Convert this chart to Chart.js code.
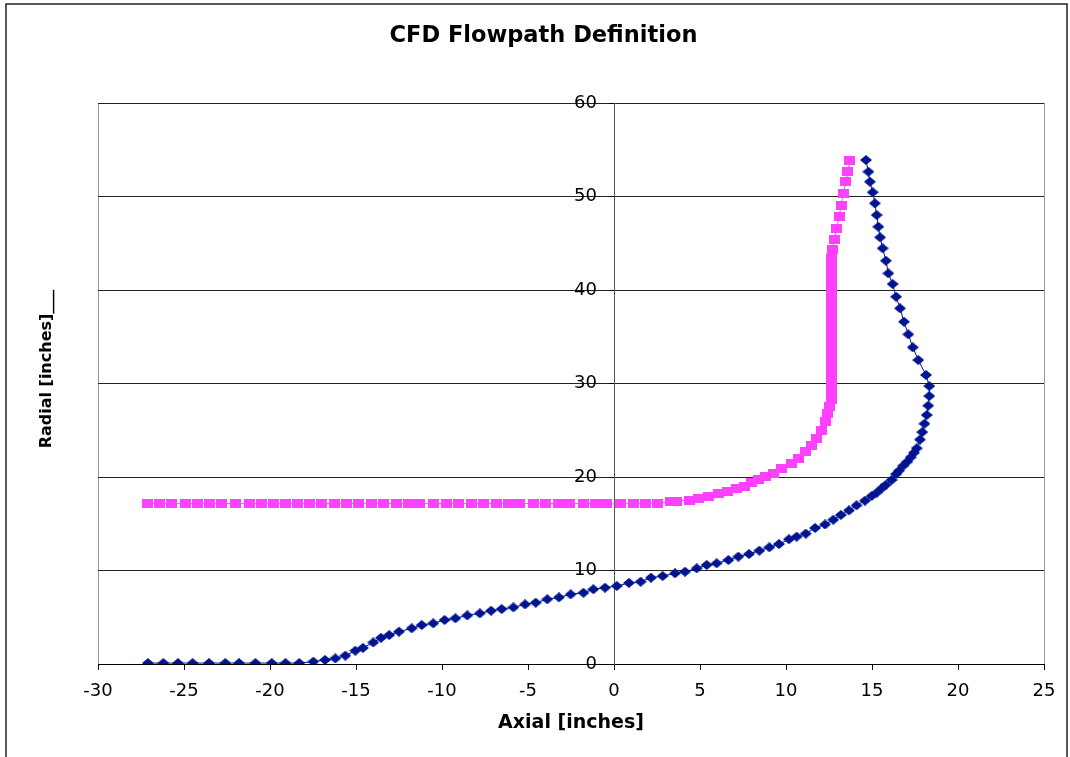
<!DOCTYPE html>
<html><head><meta charset="utf-8">
<script src="https://cdn.jsdelivr.net/npm/chart.js@4"></script>
<style>html,body{margin:0;padding:0;background:#fff}canvas{display:block}</style>
</head><body>
<canvas id="c" width="1070" height="757"></canvas>
<script>
// ---- data ----
const blueX = [-27.1, -26.2, -25.35, -24.5, -23.55, -22.6, -21.8, -20.85, -19.9, -19.1, -18.3,
  -17.48, -16.8, -16.2, -15.62, -15.04, -14.6, -14.0, -13.55, -13.07, -12.5,
  -11.76, -11.18, -10.51, -9.85, -9.22, -8.53, -7.8, -7.15, -6.53, -5.85,
  -5.17, -4.55, -3.88, -3.2, -2.52, -1.78, -1.2, -0.52, 0.16, 0.87,
  1.55, 2.15, 2.83, 3.55, 4.13, 4.81, 5.39, 5.97, 6.65, 7.23,
  7.85, 8.45, 9.03, 9.59, 10.17, 10.62, 11.15, 11.69, 12.27, 12.75,
  13.19, 13.66, 14.1, 14.59, 14.98, 15.27, 15.56, 15.79, 16.14, 16.4,
  16.57, 16.82, 17.05, 17.25, 17.44, 17.6, 17.79, 17.92, 18.05, 18.18,
  18.27, 18.33, 18.33, 18.14, 17.69, 17.37, 17.11, 16.86, 16.63, 16.4,
  16.2, 15.95, 15.81, 15.62, 15.47, 15.37, 15.27, 15.17, 15.04, 14.88,
  14.79, 14.65];
const blueY = [0.1, 0.1, 0.1, 0.1, 0.1, 0.1, 0.1, 0.1, 0.1, 0.1, 0.1,
  0.25, 0.43, 0.6, 0.89, 1.42, 1.72, 2.3, 2.8, 3.1, 3.46,
  3.82, 4.17, 4.35, 4.71, 4.89, 5.2, 5.42, 5.7, 5.88, 6.06,
  6.38, 6.56, 6.92, 7.13, 7.45, 7.62, 7.99, 8.16, 8.34, 8.67,
  8.8, 9.23, 9.41, 9.7, 9.87, 10.23, 10.59, 10.77, 11.12, 11.48,
  11.76, 12.12, 12.48, 12.83, 13.34, 13.62, 13.95, 14.55, 14.92, 15.43,
  15.94, 16.43, 16.97, 17.47, 17.97, 18.32, 18.79, 19.14, 19.68, 20.32,
  20.68, 21.21, 21.64, 22.1, 22.6, 23.07, 24.0, 24.8, 25.7, 26.63,
  27.63, 28.66, 29.73, 30.91, 32.51, 33.87, 35.26, 36.61, 38.04, 39.28,
  40.64, 41.78, 43.13, 44.46, 45.63, 46.77, 48.02, 49.27, 50.45, 51.58,
  52.65, 53.9];
const pinkX = [-27.1, -26.4, -25.7, -24.9, -24.2, -23.5, -22.8, -22.0, -21.2, -20.5,
  -19.8, -19.1, -18.4, -17.7, -17.0, -16.25, -15.55, -14.87, -14.1, -13.4,
  -12.63, -11.96, -11.3, -10.5, -9.73, -9.05, -8.27, -7.6, -6.82, -6.15,
  -5.47, -4.69, -4.0, -3.24, -2.56, -1.78, -1.1, -0.42, 0.4, 1.12, 1.86, 2.52,
  3.26, 3.64, 4.38, 4.94, 5.48, 6.06, 6.61, 7.13, 7.56, 8.01,
  8.39, 8.82, 9.3, 9.75, 10.3, 10.75, 11.15, 11.5, 11.8, 12.05,
  12.27, 12.4, 12.52, 12.62,
  12.66, 12.66, 12.66, 12.66, 12.66, 12.66, 12.66, 12.66, 12.66, 12.66,
  12.66, 12.66, 12.66, 12.66, 12.66, 12.66, 12.66, 12.66, 12.67, 12.7,
  12.81, 12.95, 13.1, 13.2, 13.33, 13.47, 13.59, 13.72];
const pinkY = [17.15, 17.15, 17.15, 17.15, 17.15, 17.15, 17.15, 17.15, 17.15, 17.15,
  17.15, 17.15, 17.15, 17.15, 17.15, 17.15, 17.15, 17.15, 17.15, 17.15,
  17.15, 17.15, 17.15, 17.15, 17.15, 17.15, 17.15, 17.15, 17.15, 17.15,
  17.15, 17.15, 17.15, 17.15, 17.15, 17.15, 17.15, 17.12, 17.12, 17.18, 17.18, 17.2,
  17.36, 17.43, 17.54, 17.72, 17.89, 18.25, 18.43, 18.79, 18.96, 19.39,
  19.75, 20.03, 20.39, 20.93, 21.4, 22.0, 22.7, 23.4, 24.1, 25.0,
  25.9, 26.8, 27.5, 28.3,
  29.0, 29.8, 30.6, 31.4, 32.2, 33.0, 33.8, 34.6, 35.4, 36.2,
  37.0, 37.8, 38.6, 39.4, 40.2, 41.0, 41.8, 42.6, 43.4, 44.28,
  45.35, 46.59, 47.84, 49.09, 50.34, 51.58, 52.65, 53.9];
const xRange = [-30, 25], xStep = 5;
const yRange = [0, 60], yStep = 10;
const chartTitle = 'CFD Flowpath Definition';
const xTitle = 'Axial [inches]';
const yTitle = 'Radial [inches]___';
// --------------------------------------

function marker(w, h, color, shape) {
  const c = document.createElement('canvas');
  c.width = w; c.height = h;
  const g = c.getContext('2d');
  g.fillStyle = color;
  g.beginPath();
  if (shape === 'diamond') {
    g.moveTo(w / 2, 0); g.lineTo(w, h / 2); g.lineTo(w / 2, h); g.lineTo(0, h / 2); g.closePath();
  } else {
    g.rect(0, 0, w, h);
  }
  g.fill();
  return c;
}
const BLUE = '#001490', PINK = '#FF40FF';
const diamond = marker(12, 10, BLUE, 'diamond');
const square = marker(11, 9, PINK, 'rect');

const toPts = (xs, ys) => xs.map((x, i) => ({x: x, y: ys[i]}));

const frame = {
  id: 'frame',
  beforeDraw(chart) {
    const ctx = chart.ctx;
    ctx.save();
    ctx.fillStyle = '#fff';
    ctx.fillRect(0, 0, chart.width, chart.height);
    ctx.strokeStyle = '#222';
    ctx.lineWidth = 1.5;
    ctx.strokeRect(6, 4, 1061, 770);
    ctx.restore();
  },
  afterDraw(chart) {
    // vertical axis title, placed left of the plot area as in the reference
    const ctx = chart.ctx;
    ctx.save();
    ctx.translate(47, 369);
    ctx.rotate(-Math.PI / 2);
    ctx.font = "bold 16px 'DejaVu Sans', sans-serif";
    ctx.fillStyle = '#000';
    ctx.textAlign = 'center';
    ctx.textBaseline = 'middle';
    ctx.fillText(yTitle, 0, 0);
    ctx.restore();
  }
};

Chart.defaults.font.family = "'DejaVu Sans', sans-serif";
Chart.defaults.color = '#000';

new Chart(document.getElementById('c'), {
  type: 'scatter',
  data: {
    datasets: [
      {data: toPts(blueX, blueY), showLine: true, borderColor: BLUE, borderWidth: 1,
       pointStyle: diamond, pointRadius: 5, xAxisID: 'x', yAxisID: 'y'},
      {data: toPts(pinkX, pinkY), showLine: true, borderColor: PINK, borderWidth: 1,
       pointStyle: square, pointRadius: 5, xAxisID: 'x', yAxisID: 'y'}
    ]
  },
  options: {
    responsive: false,
    animation: false,
    devicePixelRatio: 1,
    layout: {padding: {left: 43, right: 26, top: 10, bottom: 0}},
    plugins: {
      legend: {display: false},
      tooltip: {enabled: false},
      title: {display: true, text: chartTitle, color: '#000',
        font: {size: 22.5, weight: 'bold'}, padding: {top: 12.5, bottom: 53.5}}
    },
    scales: {
      x: {
        type: 'linear', position: 'bottom', min: xRange[0], max: xRange[1],
        ticks: {stepSize: xStep, font: {size: 18, lineHeight: 1}, color: '#000', padding: 12, maxRotation: 0},
        grid: {drawOnChartArea: true, tickLength: 6, tickColor: '#000', lineWidth: 1,
          color: c => (c.tick && (c.tick.value === xRange[0] || c.tick.value === xRange[1])) ? '#999' : 'rgba(0,0,0,0)'},
        border: {color: '#000', width: 1},
        title: {display: true, text: xTitle, color: '#000', font: {size: 19, weight: 'bold'},
          padding: {top: 0, bottom: 22.2}}
      },
      y: {
        type: 'linear', position: {x: 0}, min: yRange[0], max: yRange[1],
        ticks: {stepSize: yStep, font: {size: 18}, color: '#000',
          callback: v => v + '   '},
        grid: {color: '#222', tickLength: 5, tickColor: '#000', lineWidth: 1},
        border: {color: '#555', width: 1}
      },
      yt: {
        type: 'linear', position: 'left', display: true, min: yRange[0], max: yRange[1],
        ticks: {display: false},
        grid: {display: false, drawTicks: false},
        border: {display: false},
        title: {display: false},
        afterFit: s => { s.width = 55; }
      }
    }
  },
  plugins: [frame]
});
</script>
</body></html>
